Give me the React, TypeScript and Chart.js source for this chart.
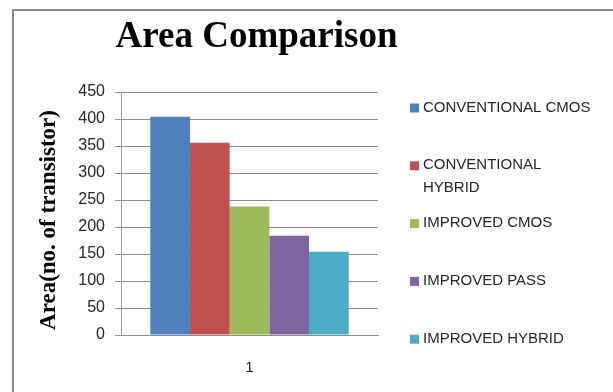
import { useEffect, useRef } from "react";
import { Chart, registerables } from "chart.js";

Chart.register(...registerables);

const chartTitle = "Area Comparison";
const yAxisTitle = "Area(no. of transistor)";
const categories = ["1"];
const seriesNames = [
  "CONVENTIONAL CMOS",
  "CONVENTIONAL HYBRID",
  "IMPROVED CMOS",
  "IMPROVED PASS",
  "IMPROVED HYBRID",
];
const seriesValues = [[404], [356], [238], [184], [154]];
const seriesColors = ["#4F81BD", "#C0504D", "#9BBB59", "#8064A2", "#4BACC6"];
const yMin = 0;
const yMax = 450;
const yStep = 50;

const SANS = '"Liberation Sans", Arial, sans-serif';
const SERIF = '"Liberation Serif", "Times New Roman", serif';

function wrapText(ctx: CanvasRenderingContext2D, text: string, maxWidth: number): string[] {
  const words = text.split(" ");
  const lines: string[] = [];
  let cur = "";
  for (const w of words) {
    const test = cur ? cur + " " + w : w;
    if (cur && ctx.measureText(test).width > maxWidth) {
      lines.push(cur);
      cur = w;
    } else {
      cur = test;
    }
  }
  if (cur) lines.push(cur);
  return lines;
}

const decorPlugin = {
  id: "decor",
  beforeDraw(chart: any) {
    const ctx = chart.ctx as CanvasRenderingContext2D;
    ctx.save();
    ctx.fillStyle = "#ffffff";
    ctx.fillRect(0, 0, chart.width, chart.height);
    ctx.strokeStyle = "#8a8a8a";
    ctx.lineWidth = 2;
    ctx.strokeRect(13, 10, chart.width + 20, chart.height + 20);
    ctx.restore();
  },
  afterDraw(chart: any) {
    const ctx = chart.ctx as CanvasRenderingContext2D;
    ctx.save();
    // title
    ctx.fillStyle = "#000000";
    ctx.font = `bold 37px ${SERIF}`;
    ctx.textAlign = "center";
    ctx.textBaseline = "alphabetic";
    ctx.fillText(chartTitle, 256.5, 47);
    // y axis title
    ctx.save();
    ctx.translate(55, 220);
    ctx.rotate(-Math.PI / 2);
    ctx.font = `bold 23px ${SERIF}`;
    ctx.textAlign = "center";
    ctx.textBaseline = "alphabetic";
    ctx.fillText(yAxisTitle, 0, 0);
    ctx.restore();
    // legend
    ctx.font = `15px ${SANS}`;
    ctx.textAlign = "left";
    ctx.textBaseline = "middle";
    chart.data.datasets.forEach((ds: any, i: number) => {
      const y0 = 107.5 + i * 57.8;
      ctx.fillStyle = ds.backgroundColor;
      ctx.fillRect(410, y0 - 4, 9, 9);
      ctx.fillStyle = "#262626";
      const lines = wrapText(ctx, ds.label, 172);
      lines.forEach((ln, j) => ctx.fillText(ln, 423, y0 + j * 23));
    });
    ctx.restore();
  },
};

export default function App() {
  const ref = useRef<HTMLCanvasElement | null>(null);
  useEffect(() => {
    if (!ref.current) return;
    const chart = new Chart(ref.current, {
      type: "bar",
      data: {
        labels: categories,
        datasets: seriesNames.map((name, i) => ({
          label: name,
          data: seriesValues[i],
          backgroundColor: seriesColors[i],
          borderWidth: 0,
          categoryPercentage: 0.772,
          barPercentage: 1,
        })),
      },
      options: {
        responsive: false,
        animation: false,
        devicePixelRatio: 1,
        layout: { padding: { left: 0, right: 235, top: 92, bottom: 0 } },
        plugins: {
          legend: { display: false },
          title: { display: false },
          tooltip: { enabled: false },
        },
        scales: {
          x: {
            grid: { display: false, drawTicks: false },
            border: { display: true, color: "#8c8c8c", width: 1 },
            ticks: {
              padding: 24,
              color: "#262626",
              font: { family: SANS, size: 15 },
            },
            afterFit(scale: any) {
              scale.height = 57;
            },
          },
          y: {
            min: yMin,
            max: yMax,
            ticks: {
              stepSize: yStep,
              padding: 10,
              color: "#262626",
              font: { family: SANS, size: 16 },
            },
            grid: { color: "#8c8c8c", tickLength: 6, lineWidth: 1 },
            border: { display: true, color: "#a0a0a0", width: 1 },
            afterFit(scale: any) {
              scale.width = 121;
            },
          },
        },
      },
      plugins: [decorPlugin],
    } as any);
    return () => chart.destroy();
  }, []);
  return (
    <div style={{ position: "fixed", left: 0, top: 0, width: 613, height: 392, overflow: "hidden", background: "#fff" }}>
      <canvas ref={ref} width={613} height={392} style={{ display: "block" }} />
    </div>
  );
}
